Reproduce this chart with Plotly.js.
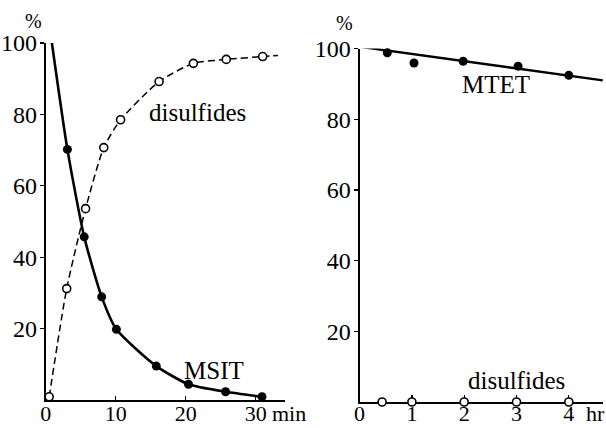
<!DOCTYPE html>
<html>
<head>
<meta charset="utf-8">
<script src="https://cdn.plot.ly/plotly-3.0.1.min.js"></script>
<style>html,body{margin:0;padding:0;background:#fff;}#chart{width:606px;height:428px;}</style>
</head>
<body>
<div id="chart"></div>
<script>
// Left panel (time in min)
const msitX = [0.85, 3.1, 5.5, 8.0, 10.1, 15.8, 20.4, 25.7, 30.9];
const msitY = [100.5, 70.2, 45.7, 28.9, 19.8, 9.5, 4.4, 2.3, 0.9];
const disLX = [0.5, 3.0, 5.7, 8.3, 10.7, 16.2, 21.1, 25.8, 31.0];
const disLY = [0.9, 31.2, 53.6, 70.7, 78.5, 89.2, 94.3, 95.4, 96.2];
const disLTailX = [33.2];
const disLTailY = [96.5];
// Right panel (time in hr)
const mtetX = [0.05, 0.53, 1.04, 1.98, 3.03, 4.0];
const mtetY = [100.5, 98.8, 95.9, 96.4, 95.0, 92.4];
const mtetFitX = [0.05, 4.65];
const mtetFitY = [100.4, 91.0];
const disRX = [0.43, 1.0, 2.0, 3.0, 4.0];
const disRY = [0, 0, 0, 0, 0];
const yTicks = [20, 40, 60, 80, 100];
const xTicksL = [0, 10, 20, 30];
const xTicksR = [0, 1, 2, 3, 4];

const F = 'Liberation Serif';
const filled = {color: '#000', size: 9};
const open = {color: '#fff', size: 8, line: {color: '#000', width: 1.6}};

const traces = [
  {x: disLX.concat(disLTailX), y: disLY.concat(disLTailY), mode: 'lines', line: {color: '#000', width: 1.5, dash: '7px,4px', shape: 'spline', smoothing: 0.6}, xaxis: 'x', yaxis: 'y', hoverinfo: 'skip'},
  {x: msitX, y: msitY, mode: 'lines', line: {color: '#000', width: 2.6, shape: 'spline', smoothing: 0.6}, xaxis: 'x', yaxis: 'y'},
  {x: disLX, y: disLY, mode: 'markers', marker: open, xaxis: 'x', yaxis: 'y', cliponaxis: false},
  {x: msitX, y: msitY, mode: 'markers', marker: filled, xaxis: 'x', yaxis: 'y', cliponaxis: false},
  {x: mtetFitX, y: mtetFitY, mode: 'lines', line: {color: '#000', width: 2.4}, xaxis: 'x2', yaxis: 'y2'},
  {x: mtetX, y: mtetY, mode: 'markers', marker: filled, xaxis: 'x2', yaxis: 'y2', cliponaxis: false},
  {x: disRX, y: disRY, mode: 'markers', marker: open, xaxis: 'x2', yaxis: 'y2', cliponaxis: false}
];

const yax = (dom) => ({
  domain: dom, range: [0, 100], tickvals: yTicks, ticks: 'outside', ticklen: 4, tickwidth: 1.2,
  tickcolor: '#000', showline: true, linecolor: '#000', linewidth: 2, showgrid: false, zeroline: false,
  tickfont: {family: F, size: 24, color: '#000'}, ticklabelstandoff: -2
});
const xax = (dom, rng, tv, tl, so) => ({
  domain: dom, range: rng, tickvals: tv, ticks: 'inside', ticklen: tl, tickwidth: 1.2, tickcolor: '#000',
  showline: true, linecolor: '#000', linewidth: 2, showgrid: false, zeroline: false,
  tickfont: {family: F, size: 22, color: '#000'}, ticklabelstandoff: so, layer: 'below traces'
});

const ann = (x, y, xr, yr, t, s) => ({x: x, y: y, xref: xr, yref: yr, text: t, showarrow: false,
  xanchor: 'center', yanchor: 'middle', font: {family: F, size: s, color: '#000'}});

const layout = {
  width: 606, height: 428, margin: {l: 0, r: 0, t: 0, b: 0},
  paper_bgcolor: '#fff', plot_bgcolor: 'rgba(0,0,0,0)', showlegend: false,
  font: {family: F, color: '#000'},
  xaxis: xax([45.7/606, 285/606], [0, 34.19], xTicksL, 4, -7),
  yaxis: yax([28/428, 385/428]),
  xaxis2: Object.assign(xax([359.6/606, 603/606], [0, 4.654], xTicksR, 7, -9), {anchor: 'y2'}),
  yaxis2: Object.assign(yax([26/428, 379.5/428]), {anchor: 'x2'}),
  annotations: [
    ann(21.7, 80.4, 'x', 'y', 'disulfides', 25),
    ann(24, 8.4, 'x', 'y', 'MSIT', 25),
    ann(2.61, 89.8, 'x2', 'y2', 'MTET', 25),
    ann(3.0, 6.2, 'x2', 'y2', 'disulfides', 25),
    ann(33/606, 1 - 21/428, 'paper', 'paper', '%', 20),
    ann(345/606, 1 - 23/428, 'paper', 'paper', '%', 20),
    ann(289/606, 1 - 413/428, 'paper', 'paper', 'min', 22),
    ann(595/606, 1 - 413/428, 'paper', 'paper', 'hr', 22)
  ]
};

Plotly.newPlot('chart', traces, layout, {staticPlot: true});
</script>
</body>
</html>
